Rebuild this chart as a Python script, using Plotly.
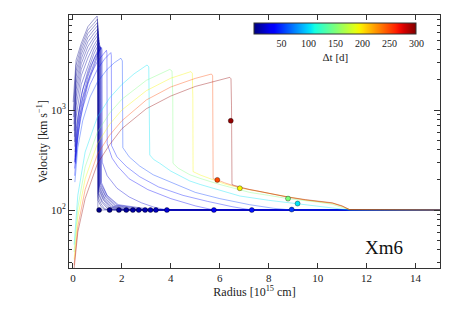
import numpy as np
import plotly.graph_objects as go

# ---------------- data ----------------
delta_t = [1, 2, 3, 4, 5, 6, 7, 8, 9, 10, 12, 14, 16, 22, 32, 42, 55, 105, 150, 195, 250, 295]

radius_curves = [
    [0.01, 0.13, 0.34, 0.61, 0.85, 0.99, 1.01, 1.02, 1.07, 15.0],
    [0.02, 0.13, 0.34, 0.61, 0.85, 1.00, 1.015, 1.025, 1.15, 1.3, 15.0],
    [0.03, 0.13, 0.34, 0.61, 0.85, 1.00, 1.02, 1.03, 1.15, 1.3, 1.5, 15.0],
    [0.04, 0.13, 0.34, 0.61, 0.85, 1.01, 1.025, 1.035, 1.2, 1.4, 1.7, 15.0],
    [0.05, 0.13, 0.34, 0.61, 0.85, 1.02, 1.035, 1.045, 1.2, 1.45, 1.88, 15.0],
    [0.06, 0.13, 0.34, 0.61, 0.85, 1.03, 1.045, 1.055, 1.25, 1.5, 2.05, 15.0],
    [0.07, 0.13, 0.34, 0.61, 0.85, 1.04, 1.055, 1.065, 1.25, 1.55, 2.18, 15.0],
    [0.08, 0.13, 0.34, 0.61, 0.85, 1.05, 1.065, 1.075, 1.3, 1.6, 2.3, 15.0],
    [0.09, 0.13, 0.34, 0.61, 0.85, 1.06, 1.075, 1.085, 1.3, 1.65, 2.45, 15.0],
    [0.10, 0.14, 0.34, 0.61, 0.85, 1.08, 1.095, 1.105, 1.35, 1.7, 2.69, 15.0],
    [0.10, 0.14, 0.27, 0.61, 0.85, 1.10, 1.115, 1.125, 1.35, 1.75, 2.95, 15.0],
    [0.10, 0.15, 0.30, 0.61, 0.90, 1.12, 1.135, 1.145, 1.4, 1.8, 3.17, 15.0],
    [0.11, 0.16, 0.30, 0.61, 0.90, 1.14, 1.155, 1.165, 1.4, 1.85, 3.39, 15.0],
    [0.06, 0.2, 0.4, 0.7, 0.95, 1.17, 1.19, 1.20, 1.4, 1.8, 2.3, 2.8, 3.3, 3.84, 15.0],
    [0.07, 0.2, 0.4, 0.7, 1.0, 1.2, 1.37, 1.39, 1.40, 1.6, 1.84, 2.3, 3.06, 4.0, 5.0, 5.76, 15.0],
    [0.07, 0.2, 0.4, 0.7, 1.0, 1.3, 1.55, 1.57, 1.58, 1.8, 2.2, 2.73, 3.5, 4.5, 5.5, 6.5, 7.31, 15.0],
    [0.08, 0.2, 0.4, 0.7, 1.0, 1.4, 1.7, 1.96, 2.02, 2.04, 2.3, 2.73, 3.28, 4.0, 5.0, 6.0, 7.22, 8.2, 8.94, 15.0],
    [0.05, 0.2, 0.5, 1.0, 1.5, 2.0, 2.5, 3.03, 3.1, 3.12, 3.14, 3.3, 3.55, 4.0, 4.78, 5.2, 6.0, 6.82, 8.0, 9.18, 10.0, 10.6, 11.0, 11.3, 15.0],
    [0.05, 0.2, 0.5, 1.0, 1.5, 2.0, 3.0, 3.96, 4.05, 4.08, 4.09, 4.3, 4.78, 5.2, 6.0, 6.82, 7.22, 8.0, 8.79, 10.0, 10.6, 11.0, 11.3, 15.0],
    [0.05, 0.2, 0.5, 1.0, 1.5, 2.0, 3.0, 4.0, 4.82, 4.88, 4.90, 4.91, 5.2, 5.73, 6.2, 6.82, 7.5, 8.79, 9.5, 10.6, 11.0, 11.3, 15.0],
    [0.05, 0.2, 0.5, 1.0, 1.5, 2.0, 3.0, 4.0, 5.0, 5.66, 5.71, 5.72, 5.73, 5.9, 6.2, 6.82, 7.5, 8.79, 9.5, 10.6, 11.0, 11.3, 15.0],
    [0.05, 0.2, 0.5, 1.0, 1.5, 2.0, 3.0, 4.0, 5.0, 6.0, 6.41, 6.46, 6.48, 6.50, 6.6, 7.22, 7.8, 8.79, 9.5, 10.6, 11.0, 11.3, 15.0],
]

velocity_curves = [
    [1200, 3160, 4640, 6800, 8000, 8700, 7500, 105, 100, 100],
    [1000, 2800, 4300, 6300, 7300, 8100, 7200, 125, 108, 101, 100],
    [850, 2450, 3950, 5800, 6800, 7500, 6700, 135, 115, 103, 100, 100],
    [720, 2150, 3600, 5300, 6300, 7000, 6300, 145, 118, 104, 100, 100],
    [620, 1850, 3250, 4800, 5800, 6500, 5900, 150, 122, 105, 100, 100],
    [540, 1600, 2900, 4300, 5300, 6100, 5500, 158, 125, 106, 100, 100],
    [480, 1350, 2550, 3800, 4900, 5700, 5200, 163, 128, 107, 100, 100],
    [430, 1100, 2200, 3300, 4400, 5300, 4850, 168, 128, 108, 100, 100],
    [380, 850, 1800, 2800, 4000, 5000, 4600, 172, 132, 109, 100, 100],
    [340, 650, 1400, 2450, 3600, 4700, 4350, 176, 134, 110, 100, 100],
    [316, 480, 1000, 2150, 3200, 4400, 4100, 180, 137, 111, 100, 100],
    [300, 440, 900, 1950, 3100, 4300, 4050, 184, 138, 112, 100, 100],
    [290, 420, 820, 1800, 2900, 4250, 4000, 188, 140, 113, 100, 100],
    [300, 850, 1600, 2650, 3550, 4200, 3950, 300, 220, 165, 135, 118, 107, 100, 100],
    [260, 680, 1300, 2200, 3050, 3550, 3950, 3700, 460, 330, 271, 205, 160, 130, 110, 100, 100],
    [220, 560, 1050, 1800, 2550, 3250, 3750, 3500, 440, 340, 270, 215, 170, 140, 122, 108, 100, 100],
    [190, 420, 780, 1350, 1900, 2550, 2980, 3290, 3100, 420, 340, 275, 225, 190, 150, 130, 113, 104, 100, 100],
    [45, 140, 380, 850, 1320, 1800, 2300, 2820, 2700, 1500, 355, 320, 293, 245, 195, 180, 158, 138, 125, 116, 110, 106, 102, 100, 100],
    [38, 105, 270, 600, 930, 1280, 1980, 2550, 2450, 1400, 293, 262, 225, 207, 180, 158, 150, 140, 130, 120, 114, 106, 101, 100],
    [32, 85, 205, 460, 720, 1000, 1560, 2080, 2420, 2330, 1300, 242, 224, 200, 182, 166, 155, 134, 126, 117, 109, 101, 100],
    [28, 68, 160, 360, 560, 780, 1260, 1700, 2070, 2290, 2200, 1200, 205, 200, 187, 167, 156, 134, 126, 117, 109, 101, 100],
    [26, 60, 130, 290, 450, 650, 1030, 1380, 1720, 2010, 2120, 2050, 1100, 180, 176, 160, 150, 135, 127, 118, 110, 101, 100],
]

dot_r = [1.07, 1.50, 1.88, 2.18, 2.45, 2.69, 2.95, 3.17, 3.39, 3.84, 5.76, 7.31, 8.94,
         9.18, 8.79, 6.82, 5.90, 6.45]
dot_v = [100, 100, 100, 100, 100, 100, 100, 100, 100, 100, 100, 100, 101,
         116, 130, 165, 200, 780]
dot_dt = [1, 3, 5, 7, 9, 10, 12, 14, 16, 22, 32, 42, 55, 105, 150, 195, 250, 295]

cbar_ticks = [50, 100, 150, 200, 250, 300]
x_ticks = [0, 2, 4, 6, 8, 10, 12, 14]

# ---------------- style helpers ----------------
DT_MAX = 300.0


def jet(t):
    t = float(np.clip(t, 0, 1))
    r = np.interp(t, [0, 0.35, 0.66, 0.89, 1], [0, 0, 1, 1, 0.5])
    g = np.interp(t, [0, 0.125, 0.375, 0.64, 0.91, 1], [0, 0, 1, 1, 0, 0])
    b = np.interp(t, [0, 0.11, 0.34, 0.65, 1], [0.5, 1, 1, 0, 0])
    return int(round(r * 255)), int(round(g * 255)), int(round(b * 255))


def jet_rgba(t, a):
    r, g, b = jet(t)
    return f"rgba({r},{g},{b},{a})"


jet_scale = [[s, jet_rgba(s, 1)] for s in np.linspace(0, 1, 41)]

FONT = "Liberation Serif"

fig = go.Figure()

for dt, rr, vv in zip(delta_t, radius_curves, velocity_curves):
    fig.add_trace(go.Scatter(
        x=rr, y=vv, mode="lines",
        line=dict(color=jet_rgba(dt / DT_MAX, 0.38), width=1),
        hoverinfo="skip", showlegend=False,
    ))

fig.add_trace(go.Scatter(
    x=dot_r, y=dot_v, mode="markers",
    marker=dict(
        size=5, color=dot_dt, colorscale=jet_scale, cmin=0, cmax=DT_MAX,
        line=dict(color="rgba(0,0,0,0.7)", width=0.5),
        showscale=True,
        colorbar=dict(
            orientation="h", x=0.718, xanchor="center", y=0.968, yanchor="top",
            len=162, lenmode="pixels", thickness=11, xpad=0, ypad=0,
            tickvals=cbar_ticks, ticks="", ticklabelposition="outside bottom",
            tickfont=dict(family=FONT, size=10, color="#222"),
            title=dict(text="Δt [d]", side="bottom", font=dict(family=FONT, size=11, color="#222")),
            outlinewidth=1, outlinecolor="#333",
        ),
    ),
    hoverinfo="skip", showlegend=False,
))

minor_vals = [m * 10 ** e for e in (1, 2, 3) for m in range(2, 10)]

fig.update_layout(
    width=463, height=309,
    margin=dict(l=69, r=23, t=15, b=41, autoexpand=False),
    paper_bgcolor="white", plot_bgcolor="white",
    font=dict(family=FONT, size=11, color="#222"),
    xaxis=dict(
        range=[-0.16, 15], tickvals=x_ticks, ticks="inside", ticklen=5, tickcolor="#333",
        showline=True, linecolor="#333", linewidth=1, mirror="ticks",
        showgrid=False, zeroline=False, automargin=False,
        tickfont=dict(family=FONT, size=11),
        title=dict(text="Radius [10<sup>15</sup> cm]", font=dict(family=FONT, size=12), standoff=0),
    ),
    yaxis=dict(
        type="log", range=[1.42, 3.95],
        tickvals=[100, 1000], ticktext=["10<sup>2</sup>", "10<sup>3</sup>"],
        ticks="inside", ticklen=6, tickcolor="#333",
        minor=dict(tickvals=minor_vals, ticks="inside", ticklen=3, tickcolor="#333"),
        showline=True, linecolor="#333", linewidth=1, mirror="ticks",
        showgrid=False, zeroline=False, automargin=False,
        tickfont=dict(family=FONT, size=11),
        title=dict(text="Velocity [km s<sup>−1</sup>]", font=dict(family=FONT, size=12), standoff=0),
    ),
    annotations=[dict(
        text="Xm6", xref="paper", yref="paper", x=0.848, y=0.083,
        xanchor="center", yanchor="middle", showarrow=False,
        font=dict(family=FONT, size=19, color="#111"),
    )],
)

post = (
    "document.documentElement.style.margin='0';"
    "document.body.style.margin='0';document.body.style.padding='0';"
    "document.body.style.overflow='hidden';"
    "var gd=document.getElementById('{plot_id}');"
    "Plotly.relayout(gd,{width:463,height:309});"
)

fig.write_html("out.html", config={"responsive": False, "displayModeBar": False}, post_script=post)
